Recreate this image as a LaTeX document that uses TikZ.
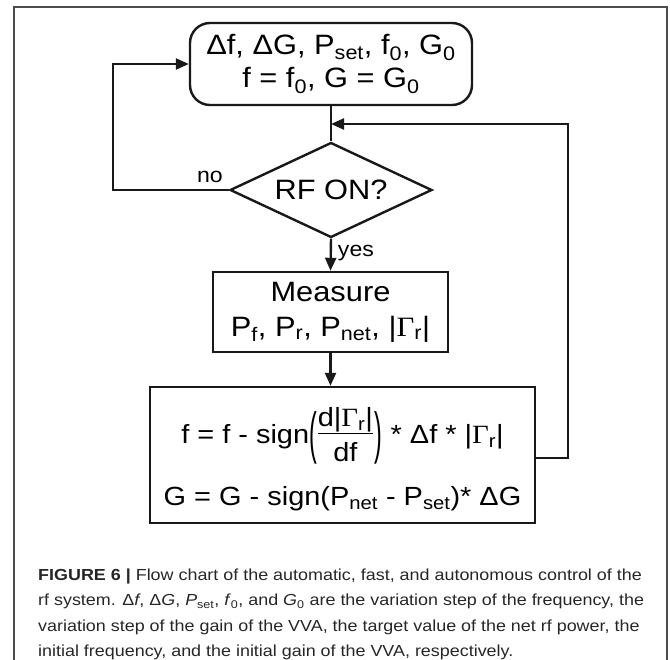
\documentclass[tikz,border=0pt]{standalone}
\usepackage{fontspec}
\setmainfont{Liberation Sans}
\newfontfamily\diagfont[FakeStretch=1.1]{Liberation Sans}
\newfontfamily\gammafont[FakeStretch=1.1]{Liberation Serif}
\newfontfamily\capfont[FakeStretch=1.12]{Liberation Sans}
\usetikzlibrary{shapes.geometric,arrows.meta}

% upright serif Gamma with subscript r
\newcommand{\Gr}{{\gammafont Γ}\textsubscript{r}}
% tall thin parenthesis
\newcommand{\tallparen}[1]{$\vcenter{\hbox{\scalebox{0.8}[2.15]{#1}}}$}
% stacked fraction d|Gamma_r| / df
\newcommand{\dGdf}{$\vcenter{\hbox{\setlength{\arrayrulewidth}{1.4pt}%
  \begin{tabular}{@{}c@{}}d|\Gr|\\[-3pt]\hline\rule{0pt}{27pt}df\end{tabular}}}$}

\tikzset{
  every picture/.style={x=1pt,y=-1pt},
  line/.style={line width=2.4pt,draw=black!90},
  flow/.style={line width=2.4pt,draw=black!90,-{Triangle[length=13pt,width=11pt]}},
  box/.style={draw=black!90,line width=2.4pt,inner sep=0pt,align=center,
    font=\diagfont\fontsize{28}{33}\selectfont},
  startbox/.style={box,rounded corners=20pt,minimum width=282pt,minimum height=82pt},
  decide/.style={box,shape=diamond,aspect=2.13,minimum width=202pt,minimum height=95pt},
  lbl/.style={inner sep=0pt,font=\diagfont\fontsize{21}{24}\selectfont},
  frameline/.style={draw=black!70,line width=2pt},
  captext/.style={inner sep=0pt,anchor=base west,text=black!85,
    font=\capfont\fontsize{16}{20}\selectfont}
}

\begin{document}
\begin{tikzpicture}
  \useasboundingbox (0,0) rectangle (670,660);

  % open frame round the figure
  \draw[frameline] (14,660) -- (14,7) -- (667,7) -- (667,660);

  % flow chart nodes
  \node[startbox] (init) at (331,64)
    {Δf, ΔG, P\textsubscript{set}, f\textsubscript{0}, G\textsubscript{0}\\
     f = f\textsubscript{0}, G = G\textsubscript{0}};
  \node[decide] (rfon) at (331,190) {RF ON?};
  \node[box,minimum width=235pt,minimum height=80pt] (meas) at (330.5,312)
    {Measure\\[2pt] P\textsubscript{f}, P\textsubscript{r}, P\textsubscript{net}, |\Gr|};
  \node[box,minimum width=385pt,minimum height=136pt] (update) at (342.5,455) {};
  \node[inner sep=0pt,align=center,font=\diagfont\fontsize{26.3}{31}\selectfont]
    (updtext) at ([yshift=-3pt]update.center)
    {f = f - sign\tallparen{(}\kern1pt\dGdf\kern2pt\tallparen{)} * Δf * |\Gr|\\[15pt]
     G = G - sign(P\textsubscript{net} - P\textsubscript{set})* ΔG};

  % point where the feedback loop re-enters
  \coordinate (rejoin) at (331,124);

  % connectors
  \draw[line] (init.south) -- (rfon.north);
  \draw[flow] (rfon.south) -- (meas.north)
    node[lbl,pos=0.45,anchor=west,xshift=6pt] {yes};
  \draw[flow] (meas.south) -- (update.north -| meas.south);
  \draw[flow] (rfon.west) -- ++(-116,0) |- (init.west);
  \node[lbl,anchor=base east] (nolbl) at (223,183) {no};
  \draw[flow] ([yshift=-3pt]update.east) -- ++(32,0) |- (rejoin);

  % caption
  \node[captext] (cap1) at (38,580)
    {\textbf{FIGURE 6 |} Flow chart of the automatic, fast, and autonomous control of the};
  \node[captext] (cap2) at (38,605.5)
    {rf system. Δ\textit{f}, Δ\textit{G}, \textit{P}\textsubscript{set}, \textit{f}\textsubscript{0}, and \textit{G}\textsubscript{0} are the variation step of the frequency, the};
  \node[captext] (cap3) at (38,631)
    {variation step of the gain of the VVA, the target value of the net rf power, the};
  \node[captext] (cap4) at (38,656)
    {initial frequency, and the initial gain of the VVA, respectively.};
\end{tikzpicture}
\end{document}
